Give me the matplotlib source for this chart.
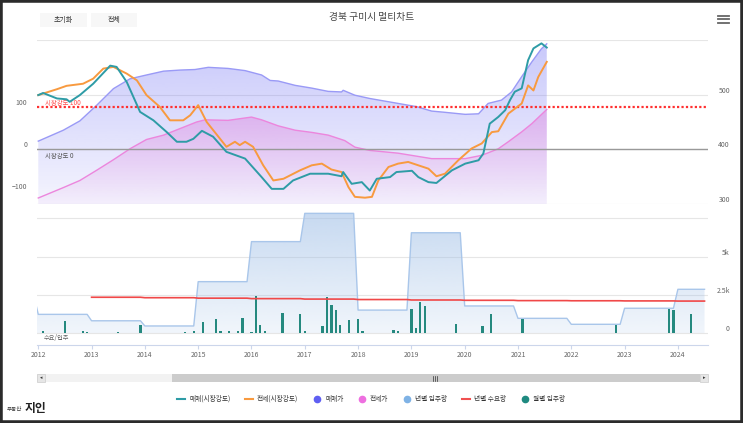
"""Gumi (Gyeongbuk) multi-chart: market strength, prices and housing supply."""

import numpy as np
import matplotlib
matplotlib.use("Agg")
import matplotlib.pyplot as plt
from matplotlib.colors import to_rgb
from matplotlib.lines import Line2D
from matplotlib.patches import Rectangle

plt.rcParams["font.family"] = ["Noto Sans CJK KR", "DejaVu Sans"]

# --- data ---
# 매매(시장강도) - sale market strength, left axis
sale_str_t = [2012.0, 2012.09, 2012.35, 2012.53, 2012.59, 2012.78, 2013.03, 2013.35, 2013.47,
              2013.66, 2013.91, 2014.16, 2014.41, 2014.60, 2014.78, 2014.91, 2015.07, 2015.28,
              2015.53, 2015.88, 2016.19, 2016.38, 2016.60, 2016.78, 2017.10, 2017.44, 2017.69,
              2017.72, 2017.88, 2018.07, 2018.22, 2018.35, 2018.60, 2018.72, 2019.01, 2019.13,
              2019.32, 2019.47, 2019.76, 2020.01, 2020.26, 2020.35, 2020.47, 2020.63, 2020.76,
              2020.85, 2020.94, 2021.07, 2021.19, 2021.29, 2021.44, 2021.54]
sale_str = [129, 134, 121, 119, 113, 129, 156, 199, 196, 160, 89, 69, 41, 18, 18, 25, 44, 30,
            -6, -22, -66, -94, -94, -74, -58, -58, -64, -54, -82, -78, -98, -70, -66, -54, -51,
            -66, -78, -80, -50, -34, -26, -10, 61, 77, 93, 117, 137, 145, 212, 240, 252, 242]

# 전세(시장강도) - jeonse market strength, left axis
jeon_str_t = [2012.0, 2012.35, 2012.53, 2012.84, 2013.03, 2013.22, 2013.41, 2013.66, 2013.85,
              2014.03, 2014.28, 2014.47, 2014.72, 2014.85, 2015.0, 2015.16, 2015.38, 2015.53,
              2015.69, 2015.78, 2015.88, 2016.03, 2016.22, 2016.41, 2016.60, 2016.91, 2017.13,
              2017.32, 2017.50, 2017.69, 2017.82, 2017.94, 2018.13, 2018.26, 2018.38, 2018.57,
              2018.75, 2018.94, 2019.13, 2019.32, 2019.47, 2019.63, 2019.88, 2020.13, 2020.32,
              2020.51, 2020.63, 2020.82, 2021.07, 2021.19, 2021.29, 2021.38, 2021.54]
jeon_str = [129, 143, 151, 156, 168, 192, 196, 180, 164, 129, 101, 69, 69, 81, 105, 65, 30, 6,
            18, 10, 18, 6, -38, -74, -70, -50, -38, -34, -48, -54, -90, -113, -115, -113, -74,
            -42, -34, -30, -38, -46, -64, -58, -26, 2, 14, 41, 43, 85, 109, 152, 140, 172, 208]

# 매매가 - sale price index, right axis
sale_px_t = [2012.0, 2012.47, 2012.78, 2013.10, 2013.41, 2013.72, 2014.03, 2014.35, 2014.66,
             2014.94, 2015.19, 2015.56, 2015.88, 2016.19, 2016.35, 2016.50, 2016.82, 2017.13,
             2017.44, 2017.69, 2017.72, 2017.94, 2018.22, 2018.75, 2019.10, 2019.38, 2019.60,
             2020.01, 2020.26, 2020.44, 2020.69, 2020.88, 2021.07, 2021.26, 2021.44, 2021.54]
sale_px = [415, 435, 452, 481, 511, 529, 536, 543, 545, 546, 550, 548, 544, 536, 526, 525, 517,
           512, 506, 505, 508, 499, 493, 484, 478, 470, 468, 464, 465, 484, 490, 505, 533, 560,
           584, 593]

# 전세가 - jeonse price index, right axis
jeon_px_t = [2012.0, 2012.47, 2012.78, 2013.10, 2013.41, 2013.72, 2014.03, 2014.35, 2014.66,
             2014.97, 2015.13, 2015.56, 2016.0, 2016.19, 2016.50, 2016.82, 2017.13, 2017.44,
             2017.75, 2017.94, 2018.22, 2018.75, 2019.38, 2020.01, 2020.32, 2020.63, 2020.82,
             2021.07, 2021.26, 2021.54]
jeon_px = [311, 330, 343, 362, 381, 401, 418, 426, 438, 450, 454, 453, 459, 454, 443, 435, 431,
           426, 416, 404, 398, 393, 383, 383, 389, 401, 414, 432, 447, 473]

# 년별 입주량 - yearly supply
supply_years = [2011, 2012, 2013, 2014, 2015, 2016, 2017, 2018, 2019, 2020, 2021, 2022, 2023, 2024]
supply_vals = [2440, 1220, 800, 460, 3360, 5980, 7830, 1500, 6560, 1770, 960, 570, 1620, 2860]

# 년별 수요량 - yearly demand
demand_years = [2013, 2014, 2015, 2016, 2017, 2018, 2019, 2020, 2021, 2022, 2023, 2024]
demand_vals = [2340, 2310, 2280, 2250, 2220, 2190, 2160, 2140, 2120, 2110, 2100, 2090]

# 월별 입주량 - monthly supply
month_dates = ["2012-02", "2012-07", "2012-11", "2012-12", "2013-07", "2013-12", "2014-10",
               "2014-12", "2015-02", "2015-05", "2015-06", "2015-08", "2015-10", "2015-11",
               "2016-01", "2016-02", "2016-03", "2016-04", "2016-08", "2016-12", "2017-01",
               "2017-05", "2017-06", "2017-07", "2017-08", "2017-09", "2017-11", "2018-01",
               "2018-02", "2018-09", "2018-10", "2019-01", "2019-02", "2019-03", "2019-04",
               "2019-11", "2020-05", "2020-07", "2021-02", "2022-11", "2023-11", "2023-12",
               "2024-04"]
month_vals = [100, 800, 150, 70, 70, 500, 70, 150, 720, 940, 100, 100, 150, 980, 70, 2440, 540,
              100, 1330, 1240, 100, 460, 2340, 1810, 1480, 500, 870, 940, 100, 200, 100, 1570,
              330, 2050, 1770, 570, 480, 1220, 920, 520, 1570, 1500, 1260]

years_ticks = list(range(2012, 2025))
END_T = 2024.5  # last monthly point (Jul 2024)

# --- layout helpers (pixel -> figure fraction) ---
W, H = 743, 423
def fx(px): return px / W
def fy(py): return 1 - py / H

X0, X1 = 2011.976, 2024.565


def to_year(s):
    y, m = s.split("-")
    return int(y) + (int(m) - 1) / 12


def yearly_steps(years, vals, first_dec_only=False):
    """Each year's value held Jan..Dec (monthly points), last year cut at END_T."""
    xs, ys = [], []
    for i, (yr, v) in enumerate(zip(years, vals)):
        if first_dec_only and i == 0:
            xs += [yr + 11 / 12]; ys += [v]
            continue
        end = min(yr + 11 / 12, END_T)
        xs += [yr, end]; ys += [v, v]
    return np.array(xs), np.array(ys)


def gradient_fill(ax, x, y, base, color, a_top, a_bot, z):
    coll = ax.fill_between(x, y, base, facecolor="none", edgecolor="none")
    y0, y1 = ax.get_ylim()
    grad = np.zeros((256, 1, 4))
    grad[..., :3] = to_rgb(color)
    grad[..., 3] = np.linspace(a_top, a_bot, 256)[:, None]
    im = ax.imshow(grad, extent=[X0, X1, y0, y1], origin="upper", aspect="auto",
                   zorder=z, interpolation="bilinear")
    im.set_clip_path(coll.get_paths()[0], transform=ax.transData)


fig = plt.figure(figsize=(W / 100, H / 100), dpi=100)

# --- upper panel: prices (right) + market strength (left) ---
ax_p = fig.add_axes([fx(37), fy(204), fx(671), 164 / H])
ax_s = ax_p.twinx()
ax_p.set_ylim(300, 600)
ax_s.set_ylim(-130, 260)

gradient_fill(ax_p, sale_px_t, sale_px, 300, "#7b7bf5", 0.42, 0.08, 1)
gradient_fill(ax_p, jeon_px_t, jeon_px, 300, "#e066d6", 0.60, 0.04, 2)
ax_p.plot(sale_px_t, sale_px, color="#9a9af6", lw=1.0, zorder=3)
ax_p.plot(jeon_px_t, jeon_px, color="#ec86dd", lw=1.0, zorder=3)

ax_p.set_yticks([300, 400, 500, 600])
ax_p.set_yticklabels(["300", "400", "500", ""])
ax_p.yaxis.tick_right()
ax_p.grid(axis="y", color="#e6e6e6", lw=0.8)
ax_p.set_axisbelow(True)
ax_p.tick_params(axis="y", length=0, labelsize=5, labelcolor="#666666", pad=15.8)
for t in ax_p.yaxis.get_major_ticks():
    t.label2.set_horizontalalignment("right")
    t.label2.set_verticalalignment("bottom")

ax_s.axhline(0, color="#999999", lw=1.0, zorder=1)
ax_s.axhline(100, color="#ff3030", lw=1.6, ls=(0, (1, 1)), zorder=2)
ax_s.plot(jeon_str_t, jeon_str, color="#f89a3f", lw=1.4, zorder=3)
ax_s.plot(sale_str_t, sale_str, color="#2e9ca6", lw=1.4, zorder=4)
ax_s.text(2012.13, 110, "시장강도 100", color="#ff4d4d", fontsize=4.6, va="center", style="italic")
ax_s.text(2012.13, -15, "시장강도 0", color="#555555", fontsize=4.6, va="center", style="italic")
ax_s.set_yticks([-100, 0, 100])
ax_s.yaxis.tick_left()
ax_s.tick_params(axis="y", length=0, labelsize=5, labelcolor="#666666", pad=7.2)
for t in ax_s.yaxis.get_major_ticks():
    t.label1.set_verticalalignment("bottom")

for a in (ax_p, ax_s):
    a.set_xlim(X0, X1)
    a.tick_params(axis="x", bottom=False, labelbottom=False)
    for sp in a.spines.values():
        sp.set_visible(False)

# --- lower panel: supply / demand ---
ax_b = fig.add_axes([fx(37), fy(345), fx(671), 136 / H])
ax_b.set_ylim(-785, 8115)
sx, sv = yearly_steps(supply_years, supply_vals, first_dec_only=True)
gradient_fill(ax_b, sx, sv, 0, "#9cbde6", 0.58, 0.10, 1)
ax_b.plot(sx, sv, color="#a9c6ea", lw=1.0, zorder=2)

dx, dv = yearly_steps(demand_years, demand_vals)
ax_b.bar([to_year(d) for d in month_dates], month_vals, width=0.042, color="#25897f", zorder=3)
ax_b.plot(dx, dv, color="#f04848", lw=1.2, zorder=4)
ax_b.text(2012.1, -300, "수요/입주", color="#666666", fontsize=4.5, va="center", style="italic")

ax_b.set_yticks([0, 2500, 5000, 7500])
ax_b.set_yticklabels(["0", "2.5k", "5k", ""])
ax_b.yaxis.tick_right()
ax_b.grid(axis="y", color="#e6e6e6", lw=0.8)
ax_b.set_axisbelow(True)
ax_b.tick_params(axis="y", length=0, labelsize=5, labelcolor="#666666", pad=15.8)
for t in ax_b.yaxis.get_major_ticks():
    t.label2.set_horizontalalignment("right")
    t.label2.set_verticalalignment("bottom")
ax_b.set_xticks(years_ticks)
ax_b.set_xticklabels([str(y) for y in years_ticks])
ax_b.tick_params(axis="x", length=3, color="#ccd6eb", labelsize=5, labelcolor="#666666", pad=1.5)
ax_b.set_xlim(X0, X1)
for k, sp in ax_b.spines.items():
    sp.set_visible(k == "bottom")
ax_b.spines["bottom"].set_color("#ccd6eb")

# --- chrome: title, buttons, menu, scrollbar, legend, logo, border ---
fig.text(fx(372), fy(17), "경북 구미시 멀티차트", ha="center", va="center", fontsize=7, color="#444444")
for x0, x1, label in [(40, 86.7, "초기화"), (90.7, 136.7, "전체")]:
    fig.patches.append(Rectangle((fx(x0), fy(26.7)), fx(x1 - x0), 14 / H, transform=fig.transFigure,
                                 facecolor="#f7f7f7", edgecolor="none"))
    fig.text(fx((x0 + x1) / 2), fy(19.7), label, ha="center", va="center", fontsize=5, color="#333333")
for yy in (16, 19.5, 23):
    fig.lines.append(Line2D([fx(718), fx(729)], [fy(yy), fy(yy)], transform=fig.transFigure,
                            color="#666666", lw=1.3))

fig.patches.append(Rectangle((fx(37), fy(382)), fx(671), 8 / H, transform=fig.transFigure,
                             facecolor="#f2f2f2", edgecolor="none"))
fig.patches.append(Rectangle((fx(172), fy(382)), fx(528), 8 / H, transform=fig.transFigure,
                             facecolor="#cccccc", edgecolor="none"))
for bx0 in (37, 700):
    fig.patches.append(Rectangle((fx(bx0), fy(382)), fx(8), 8 / H, transform=fig.transFigure,
                                 facecolor="#e6e6e6", edgecolor="#cccccc", lw=0.5))
fig.text(fx(41), fy(378), "◂", ha="center", va="center", fontsize=3.5, color="#333333")
fig.text(fx(704), fy(378), "▸", ha="center", va="center", fontsize=3.5, color="#333333")
for xx in (432.5, 434.5, 436.5):
    fig.lines.append(Line2D([fx(xx), fx(xx)], [fy(376), fy(380.5)], transform=fig.transFigure,
                            color="#333333", lw=0.5))

handles = [
    Line2D([], [], color="#2e9ca6", lw=1.5),
    Line2D([], [], color="#f89a3f", lw=1.5),
    Line2D([], [], marker="o", ls="none", color="#5f5ff2", ms=4.5),
    Line2D([], [], marker="o", ls="none", color="#ee6fe0", ms=4.5),
    Line2D([], [], marker="o", ls="none", color="#7fb2e5", ms=4.5),
    Line2D([], [], color="#f05050", lw=1.5),
    Line2D([], [], marker="o", ls="none", color="#1f8a80", ms=4.5),
]
labels = ["매매(시장강도)", "전세(시장강도)", "매매가", "전세가", "년별 입주량", "년별 수요량", "월별 입주량"]
fig.legend(handles, labels, loc="center", bbox_to_anchor=(fx(371), fy(399)), ncol=7, frameon=False,
           fontsize=4.8, handlelength=1.2, handletextpad=0.6, columnspacing=2.2, labelcolor="#333333")

fig.text(fx(7), fy(409), "부동산", ha="left", va="center", fontsize=4, color="#333333")
fig.text(fx(25), fy(408), "지인", ha="left", va="center", fontsize=8.5, fontweight="bold", color="#222222")

fig.patches.append(Rectangle((0, 0), 1, 1, transform=fig.transFigure, fill=False,
                             edgecolor="#2b2b2b", lw=4))

fig.savefig("out.png", dpi=100)
